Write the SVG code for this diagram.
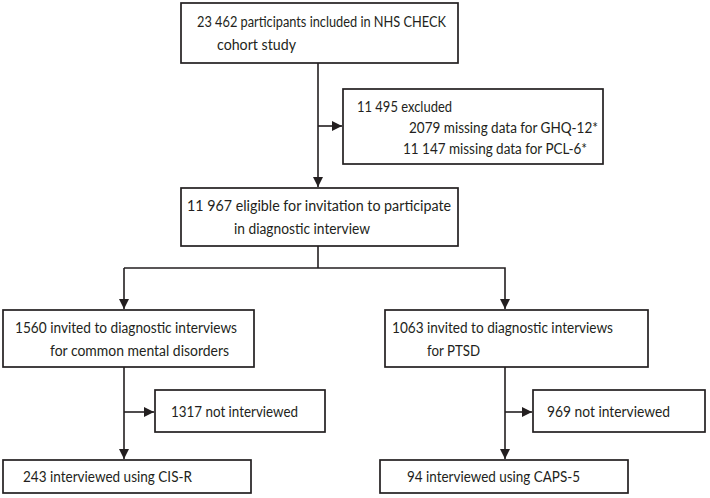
<svg xmlns="http://www.w3.org/2000/svg" width="710" height="498" viewBox="0 0 710 498">
<defs>
<style>
.box{fill:#fff;stroke:#231f20;stroke-width:1.7}
.ln{fill:none;stroke:#231f20;stroke-width:1.6}
text{font-family:Lato,"Open Sans",sans-serif;font-size:15.5px;fill:#231f20}
</style>
<marker id="ah" viewBox="0 0 10 10" refX="10" refY="5" markerWidth="10" markerHeight="10" markerUnits="userSpaceOnUse" orient="auto">
<path d="M0,0 L10,5 L0,10 Z" fill="#231f20"/>
</marker>
</defs>
<rect width="710" height="498" fill="#fff"/>
<g id="connectors">
<line class="ln" x1="318" y1="63" x2="318" y2="187" marker-end="url(#ah)"/>
<line class="ln" x1="318" y1="126" x2="342" y2="126" marker-end="url(#ah)"/>
<line class="ln" x1="318" y1="246" x2="318" y2="268"/>
<polyline class="ln" points="124,268 505,268 505,309" marker-end="url(#ah)"/>
<line class="ln" x1="124" y1="268" x2="124" y2="309" marker-end="url(#ah)"/>
<line class="ln" x1="124" y1="367" x2="124" y2="459" marker-end="url(#ah)"/>
<line class="ln" x1="124" y1="412" x2="154" y2="412" marker-end="url(#ah)"/>
<line class="ln" x1="505" y1="367" x2="505" y2="459" marker-end="url(#ah)"/>
<line class="ln" x1="505" y1="412" x2="532" y2="412" marker-end="url(#ah)"/>
</g>
<g id="n1"><rect class="box" x="181" y="3" width="277" height="60"/>
<text x="197" y="27" textLength="249" lengthAdjust="spacingAndGlyphs">23 462 participants included in NHS CHECK</text>
<text x="217" y="50" textLength="79" lengthAdjust="spacingAndGlyphs">cohort study</text></g>
<g id="n2"><rect class="box" x="343" y="89" width="260" height="75"/>
<text x="357" y="112" textLength="95" lengthAdjust="spacingAndGlyphs">11 495 excluded</text>
<text x="409" y="133" textLength="189" lengthAdjust="spacingAndGlyphs">2079 missing data for GHQ-12*</text>
<text x="403" y="154" textLength="184" lengthAdjust="spacingAndGlyphs">11 147 missing data for PCL-6*</text></g>
<g id="n3"><rect class="box" x="181" y="188" width="277" height="58"/>
<text x="187" y="211" textLength="264" lengthAdjust="spacingAndGlyphs">11 967 eligible for invitation to participate</text>
<text x="234" y="234" textLength="136" lengthAdjust="spacingAndGlyphs">in diagnostic interview</text></g>
<g id="n4"><rect class="box" x="3" y="310" width="251" height="57"/>
<text x="15" y="333" textLength="222" lengthAdjust="spacingAndGlyphs">1560 invited to diagnostic interviews</text>
<text x="50" y="356" textLength="179" lengthAdjust="spacingAndGlyphs">for common mental disorders</text></g>
<g id="n5"><rect class="box" x="385" y="310" width="263" height="57"/>
<text x="392" y="333" textLength="221" lengthAdjust="spacingAndGlyphs">1063 invited to diagnostic interviews</text>
<text x="427" y="356" textLength="53" lengthAdjust="spacingAndGlyphs">for PTSD</text></g>
<g id="n6"><rect class="box" x="155" y="390" width="170" height="42"/>
<text x="171" y="417" textLength="127" lengthAdjust="spacingAndGlyphs">1317 not interviewed</text></g>
<g id="n7"><rect class="box" x="533" y="390" width="172" height="42"/>
<text x="547" y="417" textLength="123" lengthAdjust="spacingAndGlyphs">969 not interviewed</text></g>
<g id="n8"><rect class="box" x="3" y="460" width="248" height="33"/>
<text x="23" y="482" textLength="169" lengthAdjust="spacingAndGlyphs">243 interviewed using CIS-R</text></g>
<g id="n9"><rect class="box" x="380" y="460" width="248" height="33"/>
<text x="407" y="482" textLength="173" lengthAdjust="spacingAndGlyphs">94 interviewed using CAPS-5</text></g>
</svg>
